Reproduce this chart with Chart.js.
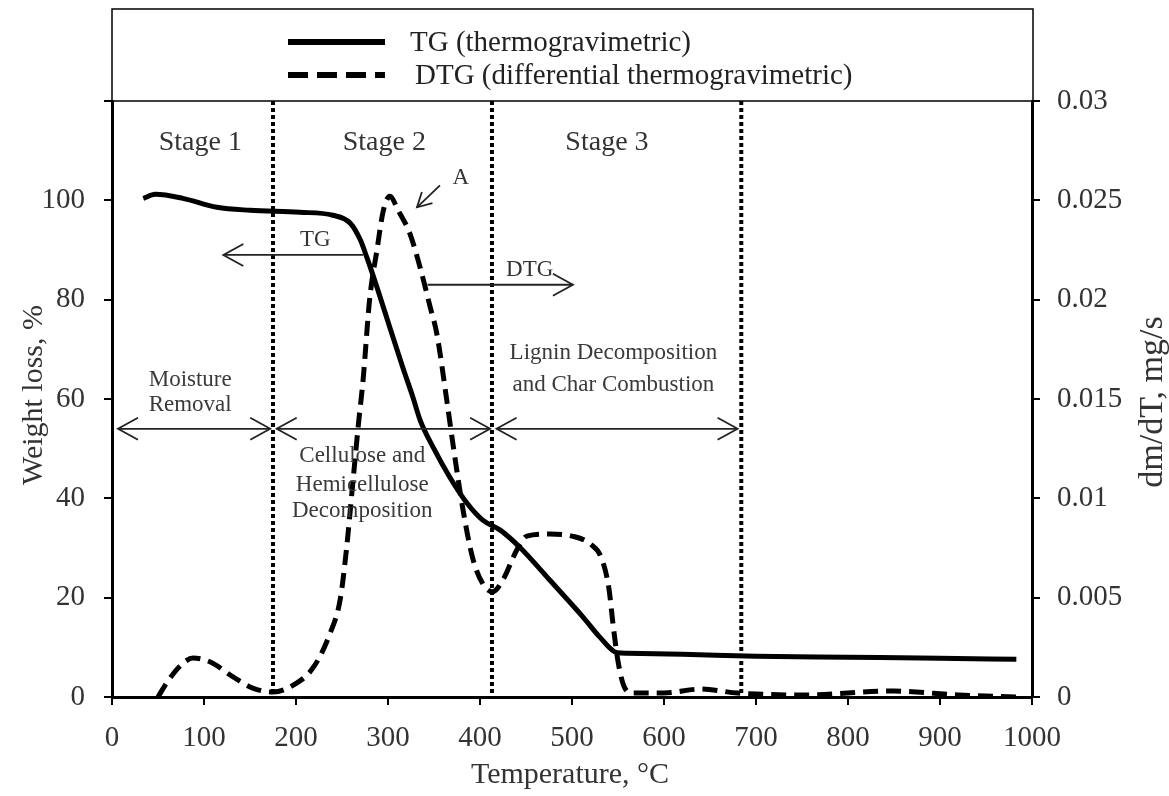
<!DOCTYPE html>
<html>
<head>
<meta charset="utf-8">
<script src="https://cdn.jsdelivr.net/npm/chart.js@4/dist/chart.umd.min.js"></script>
<style>
  body { margin: 0; background: #fff; }
</style>
</head>
<body>
<canvas id="tga" width="1169" height="796"></canvas>
<script>
// TG curve (weight loss, %) vs temperature
const tgTemp = [34, 47, 77, 114, 150, 204, 240, 259, 270, 277, 288, 302, 316, 327, 335, 349, 367, 386, 403, 422, 443, 476, 512, 530, 549, 560, 620, 700, 800, 900, 983];
const tgWeight = [100.4, 101.2, 100.4, 98.6, 98, 97.6, 97, 95.4, 92, 88.5, 82.5, 74.4, 66.4, 60.4, 55.7, 50.3, 44.3, 39, 35.6, 33.6, 30.2, 23.5, 16.1, 12.1, 8.9, 8.8, 8.6, 8.2, 8.0, 7.8, 7.6];

// DTG curve (dm/dT, mg/s) vs temperature
const dtgTemp = [50, 60, 75, 88, 107, 132, 153, 175, 197, 219, 237, 248, 255, 262, 268, 273, 280, 288, 295, 302, 311, 324, 335, 346, 353, 364, 371, 382, 392, 403, 414, 425, 440, 451, 476, 500, 520, 532, 540, 545, 550, 556, 565, 600, 640, 680, 750, 850, 920, 985];
const dtgRate = [0, 0.00075, 0.0016, 0.00196, 0.00176, 0.001, 0.00045, 0.00025, 0.0006, 0.0015, 0.0032, 0.0049, 0.0075, 0.0109, 0.0138, 0.016, 0.020, 0.0225, 0.0245, 0.0252, 0.0245, 0.0233, 0.0216, 0.0196, 0.0183, 0.0149, 0.0126, 0.0093, 0.0070, 0.0057, 0.0053, 0.0059, 0.0074, 0.0081, 0.0082, 0.0081, 0.0077, 0.0070, 0.0055, 0.0035, 0.0018, 0.0006, 0.0002, 0.0002, 0.0004, 0.0002, 0.0001, 0.0003, 0.0001, 0];

// stage boundaries (°C)
const stageBounds = [175, 413, 684];

const serif = "'Liberation Serif', 'Times New Roman', serif";
const tickFont = { family: serif, size: 29 };

function arrowHead(ctx, x, y, dir) {
  // open chevron pointing in direction dir (+1 right, -1 left)
  ctx.beginPath();
  ctx.moveTo(x - dir * 20, y - 11);
  ctx.lineTo(x, y);
  ctx.lineTo(x - dir * 20, y + 11);
  ctx.stroke();
}

const overlay = {
  id: 'overlay',
  afterDatasetsDraw(chart) {
    const { ctx, chartArea: a, scales: { x, y } } = chart;
    const px = v => x.getPixelForValue(v);
    const py = v => y.getPixelForValue(v);
    ctx.save();

    // dotted stage lines
    ctx.strokeStyle = '#000';
    ctx.lineWidth = 4;
    ctx.setLineDash([4, 3]);
    stageBounds.forEach(t => {
      ctx.beginPath();
      ctx.moveTo(px(t), a.top);
      ctx.lineTo(px(t), a.bottom);
      ctx.stroke();
    });
    ctx.setLineDash([]);

    // double arrows for each stage
    ctx.lineWidth = 1.8;
    ctx.strokeStyle = '#222';
    const ay = py(54);
    [[6.5, 172], [179, 411], [418, 680]].forEach(([t1, t2]) => {
      ctx.beginPath();
      ctx.moveTo(px(t1), ay);
      ctx.lineTo(px(t2), ay);
      ctx.stroke();
      arrowHead(ctx, px(t1), ay, -1);
      arrowHead(ctx, px(t2), ay, 1);
    });

    // TG arrow (points left)
    let yy = py(89);
    ctx.beginPath(); ctx.moveTo(px(273), yy); ctx.lineTo(px(121), yy); ctx.stroke();
    arrowHead(ctx, px(121), yy, -1);
    // DTG arrow (points right)
    yy = py(83);
    ctx.beginPath(); ctx.moveTo(px(343), yy); ctx.lineTo(px(501), yy); ctx.stroke();
    arrowHead(ctx, px(501), yy, 1);
    // arrow to peak A
    const x1 = px(356.5), y1 = py(103), x2 = px(331.5), y2 = py(98.6);
    ctx.beginPath(); ctx.moveTo(x1, y1); ctx.lineTo(x2, y2); ctx.stroke();
    const ang = Math.atan2(y2 - y1, x2 - x1);
    ctx.beginPath();
    ctx.moveTo(x2 - 16 * Math.cos(ang - 0.5), y2 - 16 * Math.sin(ang - 0.5));
    ctx.lineTo(x2, y2);
    ctx.lineTo(x2 - 16 * Math.cos(ang + 0.5), y2 - 16 * Math.sin(ang + 0.5));
    ctx.stroke();

    // texts
    ctx.textAlign = 'center';
    ctx.textBaseline = 'middle';
    ctx.fillStyle = '#333';
    ctx.font = `28px ${serif}`;
    ctx.fillText('Stage 1', px(96), py(111.7));
    ctx.fillText('Stage 2', px(296), py(111.7));
    ctx.fillText('Stage 3', px(538), py(111.7));

    ctx.font = `23px ${serif}`;
    ctx.fillStyle = '#3a3a3a';
    ctx.fillText('Moisture', px(85), py(63.8));
    ctx.fillText('Removal', px(85), py(58.8));
    ctx.fillText('Cellulose and', px(272), py(48.5));
    ctx.fillText('Hemicellulose', px(272), py(42.7));
    ctx.fillText('Decomposition', px(272), py(37.4));
    ctx.fillText('Lignin Decomposition', px(545), py(69.3));
    ctx.fillText('and Char Combustion', px(545), py(62.8));
    ctx.fillStyle = '#333';
    ctx.fillText('TG', px(221), py(92));
    ctx.fillText('DTG', px(454), py(86));
    ctx.fillText('A', px(379), py(104.5));
    ctx.restore();
  },
  afterDraw(chart) {
    const { ctx, chartArea: a } = chart;
    ctx.save();
    // legend box
    ctx.strokeStyle = '#000';
    ctx.lineWidth = 1.5;
    ctx.strokeRect(a.left, 9, a.right - a.left + 1, a.top - 9);
    ctx.lineWidth = 6;
    ctx.beginPath(); ctx.moveTo(288, 42); ctx.lineTo(385, 42); ctx.stroke();
    ctx.setLineDash([20, 9]);
    ctx.beginPath(); ctx.moveTo(288, 75); ctx.lineTo(385, 75); ctx.stroke();
    ctx.setLineDash([]);
    ctx.fillStyle = '#222';
    ctx.font = `29px ${serif}`;
    ctx.textAlign = 'left';
    ctx.textBaseline = 'middle';
    ctx.fillText('TG (thermogravimetric)', 410, 43);
    ctx.fillText('DTG (differential thermogravimetric)', 415, 76);

    // axis titles
    ctx.fillStyle = '#333';
    ctx.font = `30px ${serif}`;
    ctx.textAlign = 'center';
    ctx.textBaseline = 'alphabetic';
    ctx.fillText('Temperature, °C', (a.left + a.right) / 2 - 2, 783);
    ctx.save();
    ctx.translate(42, 395);
    ctx.rotate(-Math.PI / 2);
    ctx.fillText('Weight loss, %', 0, 0);
    ctx.restore();
    ctx.save();
    ctx.font = `34px ${serif}`;
    ctx.translate(1162, 402);
    ctx.rotate(-Math.PI / 2);
    ctx.fillText('dm/dT, mg/s', 0, 0);
    ctx.restore();
    ctx.restore();
  }
};

const axisGrid = { drawOnChartArea: false, drawTicks: true, tickLength: 8, color: '#000', lineWidth: 2 };
const axisBorder = { color: '#000', width: 3 };

new Chart(document.getElementById('tga'), {
  type: 'line',
  data: {
    datasets: [
      {
        label: 'TG (thermogravimetric)',
        data: tgTemp.map((t, i) => ({ x: t, y: tgWeight[i] })),
        yAxisID: 'y',
        borderColor: '#000',
        borderWidth: 5,
        pointRadius: 0,
        cubicInterpolationMode: 'monotone',
        fill: false,
      },
      {
        label: 'DTG (differential thermogravimetric)',
        data: dtgTemp.map((t, i) => ({ x: t, y: dtgRate[i] })),
        yAxisID: 'y2',
        borderColor: '#000',
        borderWidth: 5,
        borderDash: [15, 8],
        pointRadius: 0,
        cubicInterpolationMode: 'monotone',
        fill: false,
      },
    ],
  },
  options: {
    responsive: false,
    animation: false,
    layout: { padding: { top: 101, left: 0, right: 0, bottom: 0 } },
    plugins: { legend: { display: false }, tooltip: { enabled: false } },
    scales: {
      x: {
        type: 'linear',
        min: 0,
        max: 1000,
        ticks: { stepSize: 100, font: tickFont, color: '#333', padding: 16, maxRotation: 0, callback: v => String(v) },
        grid: axisGrid,
        border: axisBorder,
        afterFit: s => { s.height = 99; },
      },
      y: {
        position: 'left',
        min: 0,
        max: 120,
        ticks: { stepSize: 20, font: tickFont, color: '#333', padding: 19, callback: v => (v === 120 ? '' : String(v)) },
        grid: axisGrid,
        border: axisBorder,
        afterFit: s => { s.width = 112; },
      },
      y2: {
        position: 'right',
        min: 0,
        max: 0.03,
        ticks: { stepSize: 0.005, font: tickFont, color: '#333', padding: 17, callback: v => String(+v.toFixed(3)) },
        grid: axisGrid,
        border: axisBorder,
        afterFit: s => { s.width = 137; },
      },
    },
  },
  plugins: [overlay],
});
</script>
</body>
</html>
